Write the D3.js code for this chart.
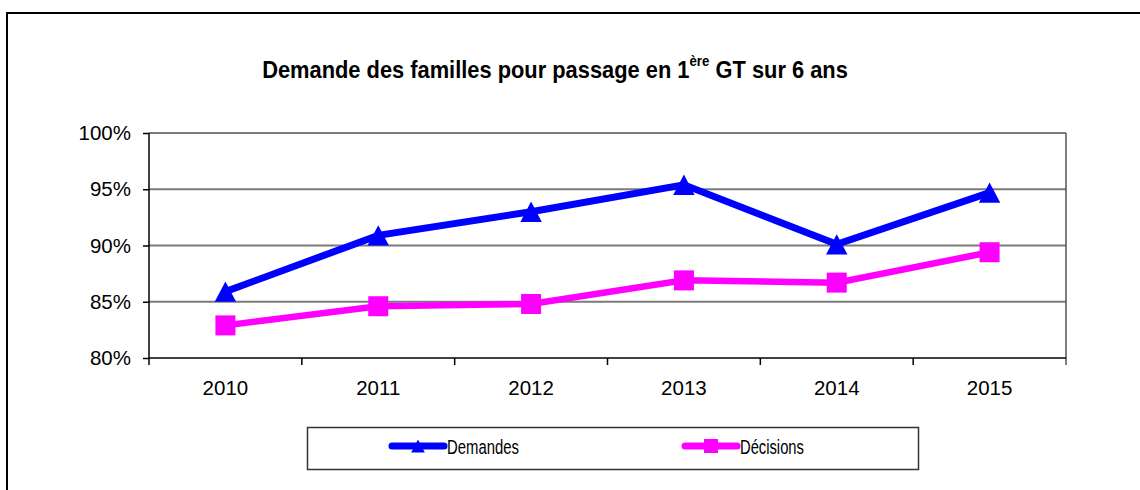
<!DOCTYPE html>
<html>
<head>
<meta charset="utf-8">
<script src="https://cdn.jsdelivr.net/npm/d3@7.9.0/dist/d3.min.js"></script>
<style>
  body { margin: 0; background: #fff; }
  svg { display: block; }
  text { font-family: "Liberation Sans", Arial, sans-serif; fill: #000; }
</style>
</head>
<body>
<svg id="chart" width="1140" height="490"></svg>
<script>
// data
const years = ["2010", "2011", "2012", "2013", "2014", "2015"];
const demandes = [85.9, 90.9, 93.0, 95.4, 90.1, 94.7];
const decisions = [82.9, 84.6, 84.8, 86.9, 86.7, 89.4];
const yTicks = [80, 85, 90, 95, 100];

const svg = d3.select("#chart");

// squeeze a text element horizontally so it looks like Arial Narrow
function narrow(sel, width, anchorX) {
  const w = sel.node().getComputedTextLength();
  const k = width / w;
  sel.attr("transform", `translate(${anchorX},0) scale(${k},1) translate(${-anchorX},0)`);
}

// outer frame of the chart (only top and left visible in picture)
svg.append("rect")
  .attr("x", 7).attr("y", 13)
  .attr("width", 1160).attr("height", 500)
  .attr("fill", "none").attr("stroke", "#000").attr("stroke-width", 2);

// title
const title = svg.append("text")
  .attr("x", 555).attr("y", 78)
  .attr("text-anchor", "middle")
  .attr("font-size", 23).attr("font-weight", "bold");
title.append("tspan").text("Demande des familles pour passage en 1");
title.append("tspan").attr("dy", -12).attr("font-size", 14).text("ère");
title.append("tspan").attr("dy", 12).text(" GT sur 6 ans");
narrow(title, 586, 555);

// scales
const plot = { left: 149, right: 1066, top: 133, bottom: 358 };
const x = d3.scaleBand().domain(years).range([plot.left, plot.right]).padding(0);
const y = d3.scaleLinear().domain([80, 100]).range([plot.bottom, plot.top]);

// gridlines
svg.append("g")
  .selectAll("line")
  .data(yTicks.filter(d => d > 80))
  .join("line")
  .attr("x1", plot.left).attr("x2", plot.right)
  .attr("y1", d => y(d)).attr("y2", d => y(d))
  .attr("stroke", "#7a7a7a").attr("stroke-width", 2);

// right border of plot area
svg.append("line")
  .attr("x1", plot.right).attr("x2", plot.right)
  .attr("y1", plot.top).attr("y2", plot.bottom + 7)
  .attr("stroke", "#555").attr("stroke-width", 1.5);

// y axis
const yAxis = svg.append("g")
  .attr("transform", `translate(${plot.left},0)`)
  .call(d3.axisLeft(y).tickValues(yTicks).tickFormat(d => d + "%").tickSize(6).tickPadding(12));
yAxis.select(".domain").attr("stroke", "#000").attr("stroke-width", 1.5)
  .attr("d", `M0,${plot.top}V${plot.bottom + 7}`);
yAxis.selectAll(".tick line").attr("stroke", "#000").attr("stroke-width", 1.5);
yAxis.selectAll("text").attr("font-size", 20.5).attr("font-family", "Liberation Sans, Arial, sans-serif");

// x axis (labels centered, ticks between categories)
const xAxis = svg.append("g")
  .attr("transform", `translate(0,${plot.bottom})`)
  .call(d3.axisBottom(x).tickSize(0).tickPadding(22));
xAxis.select(".domain").attr("stroke", "#000").attr("stroke-width", 1.5)
  .attr("d", `M${plot.left},0H${plot.right}`);
xAxis.selectAll("text").attr("font-size", 20.5).attr("font-family", "Liberation Sans, Arial, sans-serif");
xAxis.selectAll(".edge")
  .data(years.slice(1))
  .join("line")
  .attr("class", "edge")
  .attr("x1", d => x(d)).attr("x2", d => x(d))
  .attr("y1", 0).attr("y2", 7)
  .attr("stroke", "#000").attr("stroke-width", 1.5);

const cx = (d, i) => x(years[i]) + x.bandwidth() / 2;
const tri = s => `M0,${-s}L${s * 1.05},${s}L${-s * 1.05},${s}Z`;

const line = d3.line().x((d, i) => cx(d, i)).y(d => y(d));

// Demandes
svg.append("path").datum(demandes)
  .attr("d", line).attr("fill", "none")
  .attr("stroke", "#0000ff").attr("stroke-width", 7).attr("stroke-linejoin", "miter");
svg.append("g").selectAll("path")
  .data(demandes)
  .join("path")
  .attr("transform", (d, i) => `translate(${cx(d, i)},${y(d)})`)
  .attr("d", tri(10.2))
  .attr("fill", "#0000ff");

// Décisions
svg.append("path").datum(decisions)
  .attr("d", line).attr("fill", "none")
  .attr("stroke", "#ff00ff").attr("stroke-width", 6.5);
svg.append("g").selectAll("rect")
  .data(decisions)
  .join("rect")
  .attr("x", (d, i) => cx(d, i) - 10).attr("y", d => y(d) - 10)
  .attr("width", 20).attr("height", 20)
  .attr("fill", "#ff00ff");

// legend
const legend = svg.append("g");
legend.append("rect")
  .attr("x", 307.5).attr("y", 427.5).attr("width", 611).attr("height", 42)
  .attr("fill", "#fff").attr("stroke", "#333").attr("stroke-width", 1.5);

const legendItems = [
  { label: "Demandes", color: "#0000ff", x0: 392, marker: "tri", w: 72 },
  { label: "Décisions", color: "#ff00ff", x0: 685, marker: "sq", w: 64 }
];
legendItems.forEach(item => {
  const g = legend.append("g").attr("transform", `translate(${item.x0},446)`);
  g.append("line").attr("x1", 0).attr("x2", 52).attr("y1", 0).attr("y2", 0)
    .attr("stroke", item.color).attr("stroke-width", 7).attr("stroke-linecap", "round");
  if (item.marker === "tri") {
    g.append("path").attr("transform", "translate(26,0)").attr("d", tri(6.5)).attr("fill", item.color);
  } else {
    g.append("rect").attr("x", 19).attr("y", -7).attr("width", 14).attr("height", 14).attr("fill", item.color);
  }
  const t = g.append("text")
    .attr("x", 55).attr("y", 7.5)
    .attr("font-size", 19.5).text(item.label);
  narrow(t, item.w, 55);
});
</script>
</body>
</html>
